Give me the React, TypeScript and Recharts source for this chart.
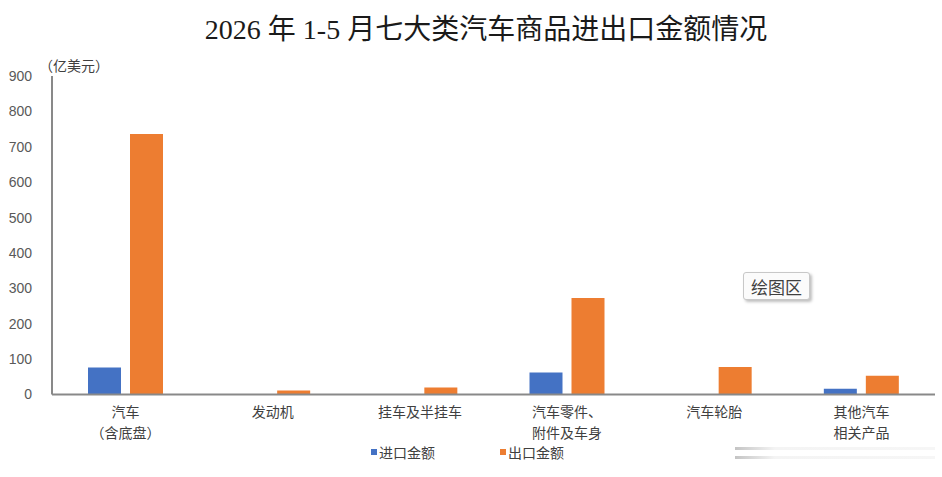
import { BarChart, Bar, XAxis, YAxis, Legend } from "recharts";

const categories = ["汽车\n（含底盘）", "发动机", "挂车及半挂车", "汽车零件、\n附件及车身", "汽车轮胎", "其他汽车\n相关产品"];
const importValues = [76, 0, 0, 62, 0, 16];
const exportValues = [736, 11, 20, 273, 78, 53];
const yTicks = [0, 100, 200, 300, 400, 500, 600, 700, 800, 900];

const BLUE = "#4472C4";
const ORANGE = "#ED7D31";
const CJK = "'Noto Sans CJK SC', 'Liberation Sans', sans-serif";

const data = categories.map((name, i) => ({ name, imp: importValues[i], exp: exportValues[i] }));

function CategoryTick({ x, y, payload }: any) {
  const lines = String(payload.value).split("\n");
  return (
    <g>
      {lines.map((l, i) => (
        <text key={i} x={x} y={y + 22.5 + i * 21} textAnchor="middle" fontSize={14} fill="#404040" fontFamily={CJK}>
          {l}
        </text>
      ))}
    </g>
  );
}

function LegendBox() {
  const item = (left: number, color: string, label: string) => (
    <div style={{ position: "absolute", left, top: 0, display: "flex", alignItems: "center", fontSize: 14, color: "#404040", fontFamily: CJK, height: 20 }}>
      <span style={{ width: 6, height: 6, background: color, marginRight: 2, display: "inline-block" }} />
      {label}
    </div>
  );
  return (
    <div style={{ position: "relative", width: 942, height: 20 }}>
      {item(371, BLUE, "进口金额")}
      {item(500, ORANGE, "出口金额")}
    </div>
  );
}

export default function App() {
  return (
    <div style={{ position: "absolute", left: 0, top: 0, width: 942, height: 477, background: "#fff" }}>
      <div style={{ position: "absolute", left: 0, width: 972, top: 11, textAlign: "center", fontSize: 28, fontFamily: "'Liberation Serif', 'Noto Sans CJK SC', serif", color: "#1a1a1a", lineHeight: "38px" }}>
        2026 年 1-5 月七大类汽车商品进出口金额情况
      </div>
      <div style={{ position: "absolute", left: 39, top: 55, fontSize: 14, fontFamily: CJK, color: "#404040", lineHeight: "20px" }}>
        （亿美元）
      </div>
      <BarChart width={942} height={477} data={data} margin={{ top: 76, right: 7, left: 0, bottom: 15 }} barSize={33} barGap={9}>
        <XAxis dataKey="name" height={47.5} axisLine={{ stroke: "#898989", strokeWidth: 2 }} tickLine={false} tickSize={0} tickMargin={0} interval={0} tick={<CategoryTick />} />
        <YAxis width={52} domain={[0, 900]} ticks={yTicks} interval={0} axisLine={{ stroke: "#898989", strokeWidth: 2 }} tickLine={false} tickSize={0} tickMargin={20}
          tick={{ fontSize: 14, fill: "#595959", fontFamily: "'Liberation Sans', Arial, sans-serif" }} />
        <Legend verticalAlign="bottom" content={<LegendBox />} />
        <Bar dataKey="imp" name="进口金额" fill={BLUE} isAnimationActive={false} />
        <Bar dataKey="exp" name="出口金额" fill={ORANGE} isAnimationActive={false} />
      </BarChart>
      <div style={{ position: "absolute", left: 743, top: 272, width: 65, height: 26, border: "1px solid #c8c8c8", borderRadius: 3, background: "#fbfbfb", boxShadow: "2px 2px 3px rgba(0,0,0,0.25)", fontSize: 17, fontFamily: CJK, color: "#404040", display: "flex", alignItems: "center", justifyContent: "center" }}>
        绘图区
      </div>
      <div style={{ position: "absolute", left: 735, top: 447, width: 200, height: 3, background: "linear-gradient(to right, #c4c4c4, #f4f4f4 20%, #f6f6f6)" }} />
      <div style={{ position: "absolute", left: 735, top: 456, width: 200, height: 3, background: "linear-gradient(to right, #c4c4c4, #f4f4f4 20%, #f6f6f6)" }} />
    </div>
  );
}
